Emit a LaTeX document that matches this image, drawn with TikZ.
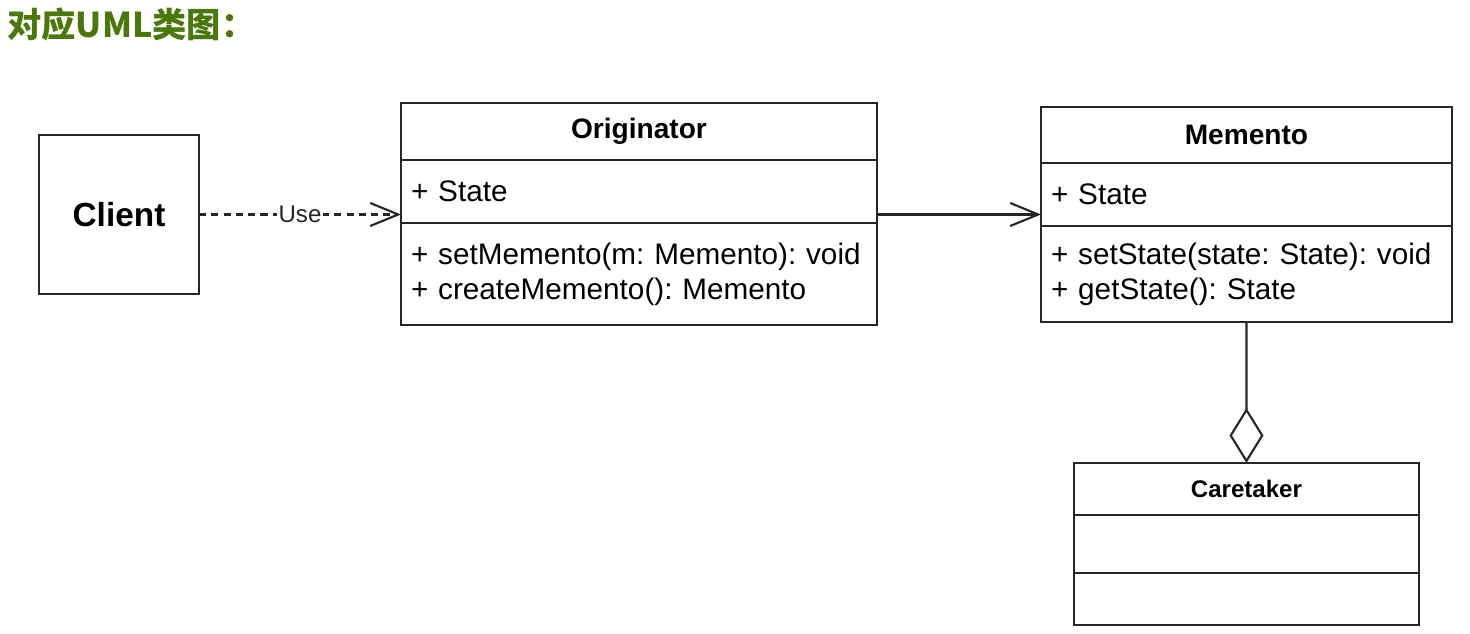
\documentclass[tikz,border=0pt]{standalone}
\usepackage{fontspec}
\setmainfont{Liberation Sans}
\newfontfamily\cjk{Noto Sans CJK SC}
\usetikzlibrary{arrows.meta, positioning}
\definecolor{titlegreen}{HTML}{4A780A}
\definecolor{umlline}{HTML}{262626}
\frenchspacing

\begin{document}
\begin{tikzpicture}[x=0.02cm, y=-0.02cm,
    box/.style={draw=umlline, line width=1.2pt, inner sep=0pt, outer sep=0pt, anchor=north west},
    head/.style={box, font=\bfseries\fontsize{16}{19}\selectfont},
    part/.style={box, inner xsep=0.2cm, align=left, font=\fontsize{16.9}{20}\selectfont},
    openarrow/.style={umlline, line width=1.2pt, -{Straight Barb[length=0.56cm, width=0.46cm, line width=1.2pt]}}
  ]
  \useasboundingbox (0,0) rectangle (1470,634);

  % Titel
  \node[anchor=west, inner sep=0pt, text=titlegreen, font=\cjk\bfseries\fontsize{19.5}{22}\selectfont] (title) at (7,24) {对应UML类图：};

  % Client
  \node[box, anchor=center, minimum width=3.2cm, minimum height=3.18cm, font=\bfseries\fontsize{19}{22}\selectfont] (client) at (119,214.5) {Client};

  % Originator
  \node[head, minimum width=9.52cm, minimum height=1.14cm] (origHead) at (401,103) {Originator};
  \node[part, text width=9.12cm, minimum height=1.26cm, below=0pt of origHead] (origAttr) {+ State};
  \node[part, text width=9.12cm, minimum height=2.04cm, below=0pt of origAttr] (origOps) {+ setMemento(m: Memento): void\\+ createMemento(): Memento};

  % Memento
  \node[head, minimum width=8.22cm, minimum height=1.12cm] (memHead) at (1041,107) {Memento};
  \node[part, text width=7.82cm, minimum height=1.26cm, below=0pt of memHead] (memAttr) {+ State};
  \node[part, text width=7.82cm, minimum height=1.92cm, below=0pt of memAttr] (memOps) {+ setState(state: State): void\\+ getState(): State};

  % Caretaker
  \node[head, minimum width=6.9cm, minimum height=1.04cm, font=\bfseries\fontsize{13.7}{16}\selectfont] (careHead) at (1074,463) {Caretaker};
  \node[part, text width=6.5cm, minimum height=1.16cm, below=0pt of careHead] (careAttr) {};
  \node[part, text width=6.5cm, minimum height=1.04cm, below=0pt of careAttr] (careOps) {};

  % Verbindungen
  \draw[openarrow, dash pattern=on 4pt off 3pt] (client.east) -- node[fill=white, inner sep=1pt, font=\fontsize{13.7}{16}\selectfont] (useLbl) {Use} (client.east -| origAttr.west);
  \draw[openarrow] (origAttr.east |- client.east) -- (memAttr.west |- client.east);
  \draw[umlline, line width=1.2pt, -{Diamond[open, length=1.1cm, width=0.68cm, line width=1.2pt]}] (memOps.south) -- (careHead.north);
\end{tikzpicture}
\end{document}
